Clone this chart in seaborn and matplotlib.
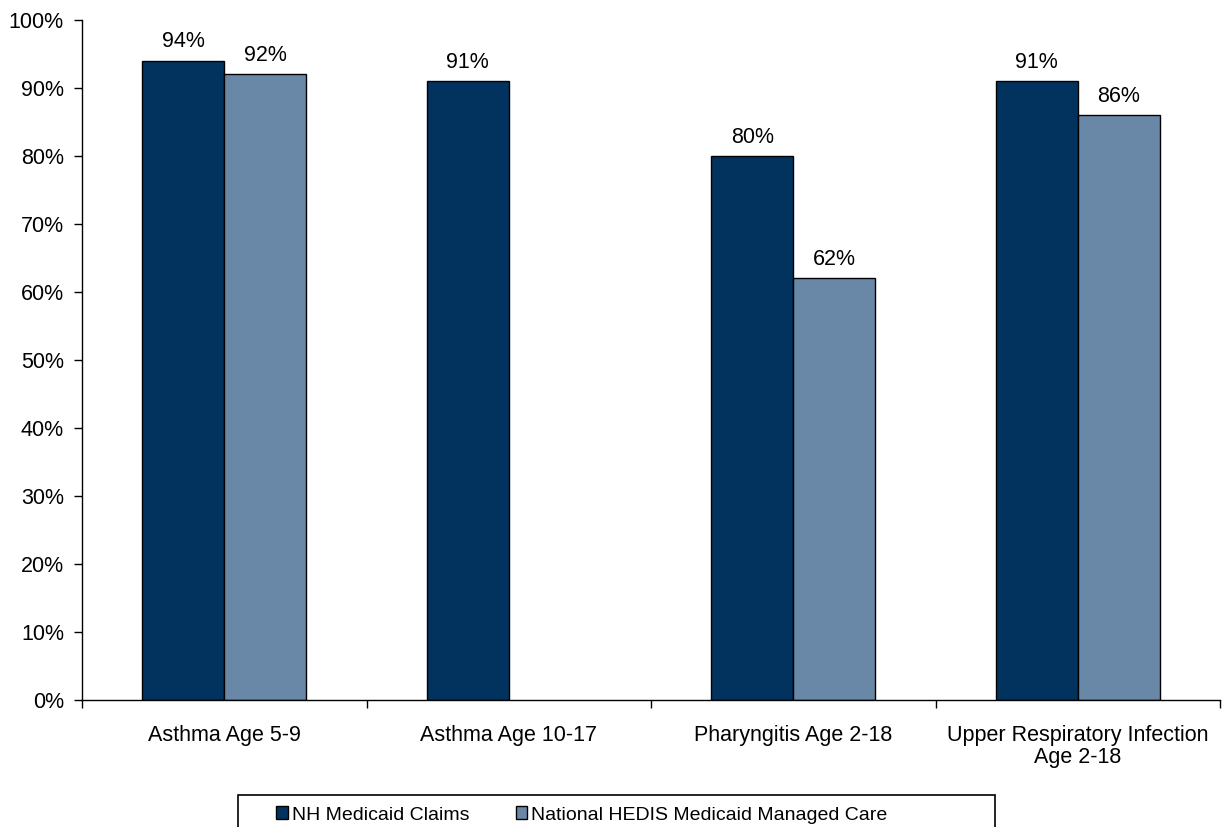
import matplotlib
matplotlib.use("Agg")
import matplotlib.pyplot as plt
import seaborn as sns
import pandas as pd
import numpy as np
from matplotlib.patches import Patch, Rectangle

categories = ["Asthma Age 5-9", "Asthma Age 10-17", "Pharyngitis Age 2-18",
              "Upper Respiratory Infection\nAge 2-18"]
series_names = ["NH Medicaid Claims", "National HEDIS Medicaid Managed Care"]
nh_claims = [94, 91, 80, 91]
hedis = [92, np.nan, 62, 86]
colors = ["#02335F", "#6987A6"]

sns.set_theme(style="ticks")
plt.rcParams["font.family"] = ["Liberation Sans", "DejaVu Sans"]
plt.rcParams["text.color"] = "black"
plt.rcParams["xtick.color"] = "black"
plt.rcParams["ytick.color"] = "black"

df = pd.DataFrame({
    "category": categories * 2,
    "series": [series_names[0]] * 4 + [series_names[1]] * 4,
    "value": nh_claims + hedis,
}).dropna()

FS = 15.5

fig = plt.figure(figsize=(12.25, 8.27), dpi=100)
ax = fig.add_axes([82 / 1225, 1 - 700 / 827, 1138 / 1225, 680 / 827])

sns.barplot(data=df, x="category", y="value", hue="series", order=categories,
            hue_order=series_names, palette=colors, width=0.577, dodge=True,
            edgecolor="black", linewidth=1, saturation=1, legend=False, ax=ax)

for container in ax.containers:
    labels = [f"{v:.0f}%" for v in container.datavalues]
    ax.bar_label(container, labels=labels, padding=6, fontsize=FS, color="black")

ax.set_ylim(0, 100)
ax.set_xlim(-0.5, 3.5)
ax.set_yticks(range(0, 101, 10))
ax.set_yticklabels([f"{t}%" for t in range(0, 101, 10)], fontsize=FS)
ax.set_xticks(range(4))
ax.set_xticklabels(categories, fontsize=FS, linespacing=1.05)
ax.set_xticks([-0.5, 0.5, 1.5, 2.5, 3.5], minor=True)
ax.tick_params(axis="x", which="major", length=0, pad=18)
ax.tick_params(axis="x", which="minor", length=6, width=1, color="black")
ax.tick_params(axis="y", length=6, width=1, color="black", pad=7)
ax.set_xlabel("")
ax.set_ylabel("")
for side in ["top", "right"]:
    ax.spines[side].set_visible(False)
for side in ["left", "bottom"]:
    ax.spines[side].set_color("black")
    ax.spines[side].set_linewidth(1)

# legend frame runs off the bottom edge like the original
fig.patches.append(Rectangle((238 / 1225, -0.05), (995 - 238) / 1225, 0.05 + 32 / 827,
                             transform=fig.transFigure, facecolor="white",
                             edgecolor="black", linewidth=1.2, zorder=1))
handles = [Patch(facecolor=c, edgecolor="black", linewidth=1) for c in colors]
leg = fig.legend(handles, series_names, loc="center left",
                 bbox_to_anchor=(276 / 1225, 1 - 815 / 827), ncol=2,
                 frameon=False, handlelength=0.6, handleheight=0.6,
                 handletextpad=0.2, columnspacing=2.4, borderpad=0,
                 borderaxespad=0, fontsize=14)
leg.set_zorder(2)

fig.savefig("out.png", dpi=100)
